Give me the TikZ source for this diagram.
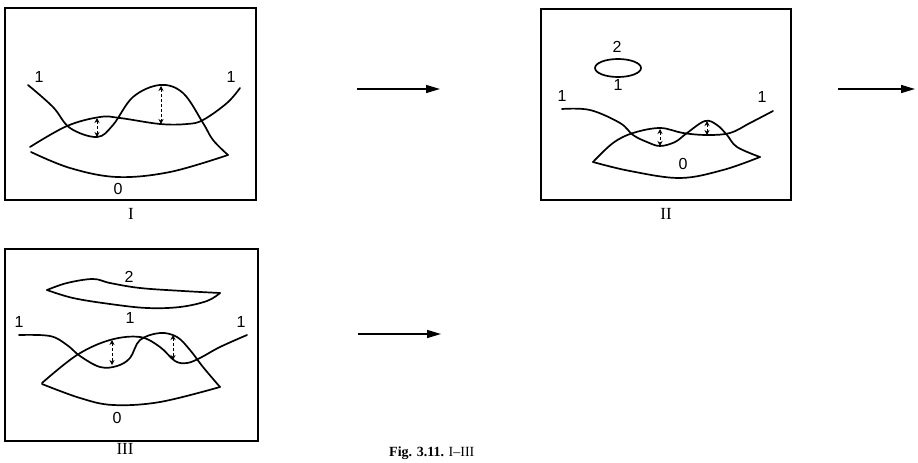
\documentclass[tikz,border=0pt]{standalone}
\usepackage{fontspec}
\setmainfont{Liberation Serif}
\newfontfamily\lblfont{Liberation Sans}
\usetikzlibrary{arrows.meta}
\begin{document}
\begin{tikzpicture}[x=1pt,y=-1pt,
  frame/.style={line width=1.8pt},
  curve/.style={line width=1.7pt, line join=round, line cap=round},
  gap/.style={line width=0.8pt, densely dashed,
    {Stealth[length=5pt,width=5pt]}-{Stealth[length=5pt,width=5pt]}},
  flow/.style={line width=1.4pt, -{Triangle[length=14pt,width=8pt]}},
  num/.style={font=\lblfont\fontsize{16}{16}\selectfont, inner sep=0pt},
  roman/.style={font=\fontsize{17}{17}\selectfont, inner sep=0pt}]
\path[fill=white] (0,0) rectangle (918,463);
\useasboundingbox (0,0) rectangle (918,463);

% ---------- stage I ----------
\draw[frame] (5,8) rectangle (256,200);
\draw[curve] plot[smooth,tension=0.6] coordinates
  {(28,85) (53,107) (70,128) (97,137) (113,125) (133,97) (160,85)
   (183,93) (203,123) (213,140) (228,155)};
\draw[curve] plot[smooth,tension=0.6] coordinates
  {(30,147) (67,126) (100,117) (120,118) (160,124) (187,124) (203,120)
   (227,103) (240,88)};
\draw[curve] plot[smooth,tension=0.6] coordinates
  {(31,152) (70,168) (117,177) (170,172) (228,155)};
\coordinate (Ia) at (97,118); \coordinate (Ib) at (97,137);
\coordinate (Ic) at (161,86); \coordinate (Id) at (161,124);
\draw[gap] (Ia) -- (Ib);
\draw[gap] (Ic) -- (Id);
\node[num] (I1l) at (39,77) {1};
\node[num] (I1r) at (231,77) {1};
\node[num] (I0) at (118,189) {0};
\node[roman] (Ilab) at (131,214) {I};

% ---------- stage II ----------
\draw[frame] (541,9) rectangle (791,200);
\draw[curve] (618,68) ellipse [x radius=23, y radius=9];
\draw[curve] plot[smooth,tension=0.6] coordinates
  {(562,109) (590,110) (620,123) (633,135) (647,142) (660,146) (675,142)
   (687,133) (705,121) (717,125) (727,135) (737,147) (760,157)};
\draw[curve] plot[smooth,tension=0.6] coordinates
  {(593,162) (613,143) (633,133) (660,128) (683,133) (707,135) (730,133)
   (750,123) (773,111)};
\draw[curve] plot[smooth,tension=0.6] coordinates
  {(593,162) (630,171) (680,178) (723,170) (760,157)};
\coordinate (IIa) at (660,129); \coordinate (IIb) at (660,146);
\coordinate (IIc) at (707,121); \coordinate (IId) at (707,135);
\draw[gap] (IIa) -- (IIb);
\draw[gap] (IIc) -- (IId);
\node[num] (II2) at (617,47) {2};
\node[num] (II1e) at (618,85) {1};
\node[num] (II1l) at (562,96) {1};
\node[num] (II1r) at (762,97) {1};
\node[num] (II0) at (683,164) {0};
\node[roman] (IIlab) at (666,214) {II};

% ---------- stage III ----------
\draw[frame] (5,249) rectangle (258,441);
\draw[curve] plot[smooth,tension=0.6] coordinates
  {(47,290) (67,283) (93,279) (110,283) (140,288) (183,291) (220,293)};
\draw[curve] plot[smooth,tension=0.6] coordinates
  {(220,293) (207,301) (180,307) (147,308) (110,304) (73,298) (47,290)};
\draw[curve] plot[smooth,tension=0.6] coordinates
  {(19,335) (50,336) (67,345) (80,356) (100,367) (117,366) (130,358)
   (140,340) (160,333) (177,337) (190,350) (203,367) (220,387)};
\draw[curve] plot[smooth,tension=0.6] coordinates
  {(42,383) (77,355) (110,340) (140,337) (160,347) (175,361) (187,363)
   (200,358) (220,347) (247,335)};
\draw[curve] plot[smooth,tension=0.6] coordinates
  {(42,384) (80,398) (113,405) (160,402) (220,387)};
\coordinate (IIIa) at (112,340); \coordinate (IIIb) at (112,365);
\coordinate (IIIc) at (173,335); \coordinate (IIId) at (173,360);
\draw[gap] (IIIa) -- (IIIb);
\draw[gap] (IIIc) -- (IIId);
\node[num] (III2) at (129,277) {2};
\node[num] (III1f) at (130,318) {1};
\node[num] (III1l) at (19,322) {1};
\node[num] (III1r) at (241,322) {1};
\node[num] (III0) at (117,418) {0};
\node[roman] (IIIlab) at (125,449) {III};

% ---------- transition arrows ----------
\coordinate (A1s) at (357,89);  \coordinate (A1e) at (440,89);
\coordinate (A2s) at (838,89);  \coordinate (A2e) at (915,89);
\coordinate (A3s) at (358,334); \coordinate (A3e) at (441,334);
\draw[flow] (A1s) -- (A1e);
\draw[flow] (A2s) -- (A2e);
\draw[flow] (A3s) -- (A3e);

% ---------- caption ----------
\node[anchor=base west, inner sep=0pt, font=\fontsize{14}{14}\selectfont]
  (cap) at (389,456) {\textbf{Fig. 3.11.} I--III};
\end{tikzpicture}
\end{document}
